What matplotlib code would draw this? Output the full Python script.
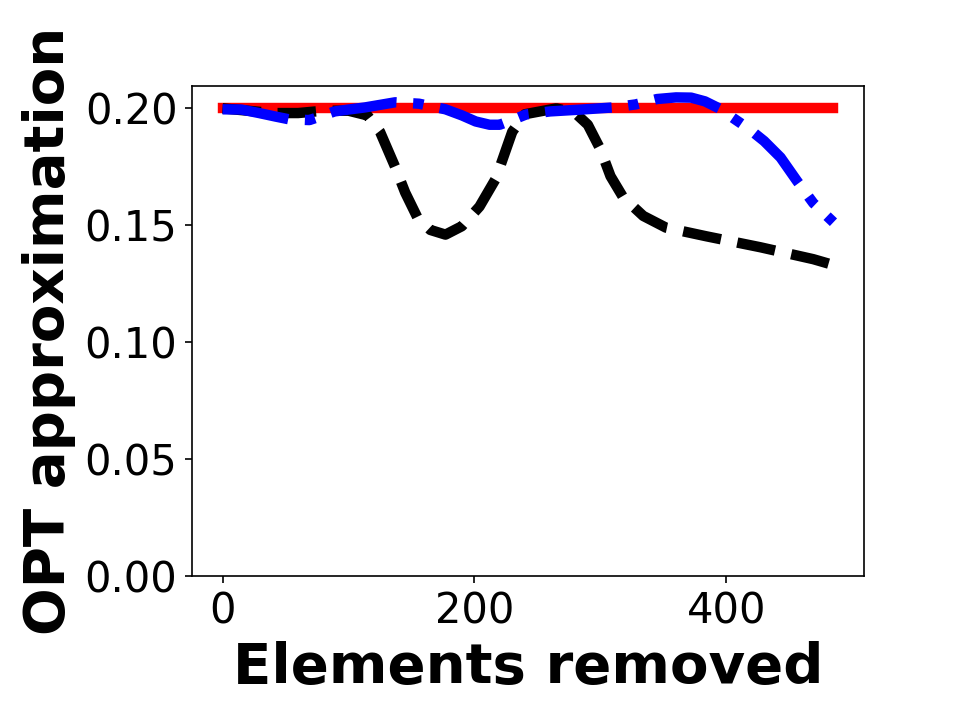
import matplotlib
matplotlib.use("Agg")
import matplotlib.pyplot as plt

# values
opt_x = [0, 485]
opt_y = [0.200, 0.200]

black_x = [0, 20, 40, 60, 80, 100, 115, 125, 137, 145, 155, 165, 177, 190, 204, 217,
           230, 240, 255, 265, 280, 290, 300, 308, 318, 334, 352, 384, 427, 469, 485]
black_y = [0.200, 0.199, 0.198, 0.198, 0.199, 0.199, 0.197, 0.190, 0.175, 0.164, 0.153,
           0.148, 0.146, 0.1496, 0.158, 0.170, 0.190, 0.1975, 0.199, 0.200, 0.198, 0.193,
           0.1825, 0.171, 0.162, 0.154, 0.149, 0.1453, 0.1406, 0.1355, 0.133]

blue_x = [0, 15, 29, 42, 53, 69, 80, 89, 100, 113, 125, 137, 156, 177, 190, 201, 212,
          220, 230, 241, 260, 285, 310, 328, 345, 360, 372, 383, 395, 405, 418, 430, 443,
          456, 469, 485]
blue_y = [0.1996, 0.1995, 0.198, 0.1965, 0.1953, 0.195, 0.197, 0.1987, 0.1995, 0.2004,
          0.2015, 0.2026, 0.202, 0.1996, 0.197, 0.1944, 0.193, 0.193, 0.195, 0.1974,
          0.1987, 0.1995, 0.2004, 0.2017, 0.2040, 0.2047, 0.2046, 0.2030, 0.1998, 0.1960,
          0.1912, 0.1860, 0.1790, 0.1690, 0.1595, 0.1513]

fig, ax = plt.subplots(figsize=(6.4, 4.8), dpi=150)
fig.subplots_adjust(left=0.2, bottom=0.2)

ax.plot(opt_x, opt_y, color='red', linestyle='-', linewidth=5)
ax.plot(black_x, black_y, color='black', linestyle='--', linewidth=5)
ax.plot(blue_x, blue_y, color='blue', linestyle='-.', linewidth=5)

ax.set_ylim(0, 0.2094)
ax.set_yticks([0.00, 0.05, 0.10, 0.15, 0.20])
ax.set_xticks([0, 200, 400])
ax.tick_params(labelsize=20)
ax.set_xlabel('Elements removed', fontsize=27, fontweight='bold')
ax.set_ylabel('OPT approximation', fontsize=27, fontweight='bold')

fig.savefig('out.png', dpi=150)
